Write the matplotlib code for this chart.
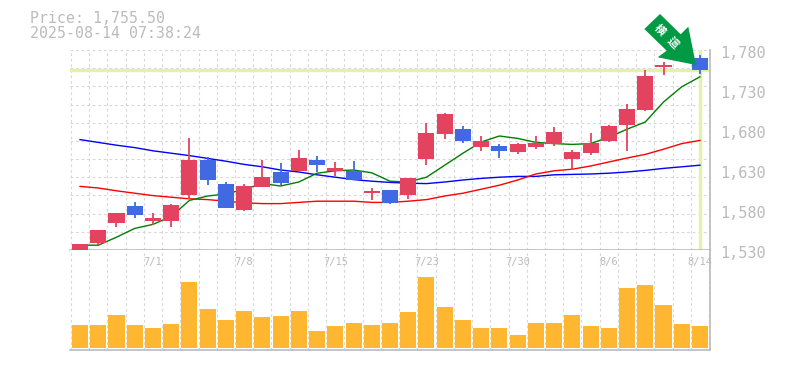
import matplotlib
matplotlib.use('Agg')
import matplotlib.pyplot as plt
from matplotlib.patches import Polygon

W, H = 785, 370

# 4本値 (始値, 高値, 安値, 終値)
opens = [1530, 1539, 1564, 1585, 1566, 1566, 1599, 1642.5, 1612.5, 1580, 1609, 1627.5, 1629, 1642.5, 1629,
         1629, 1601, 1605, 1599, 1644, 1675, 1681, 1659, 1660, 1652.5, 1659, 1662.5, 1644, 1651, 1666,
         1686, 1705, 1759, 1771, 1770]
highs = [1537.5, 1555, 1576, 1590, 1576, 1587, 1670, 1646, 1615, 1612, 1642.5, 1639, 1655, 1647.5, 1640,
         1641, 1607.5, 1605, 1620, 1689, 1701, 1685, 1672.5, 1662.5, 1664, 1672.5, 1684, 1655, 1676, 1686,
         1712.5, 1755, 1765, 1780, 1774]
lows = [1529, 1536, 1559, 1570, 1561, 1559, 1594, 1611, 1582.5, 1579, 1609, 1611, 1629, 1627.5, 1622.5,
        1617.5, 1592.5, 1587.5, 1594, 1636, 1669, 1664, 1654, 1645, 1650, 1656, 1660, 1630, 1649, 1665,
        1654, 1704, 1749, 1769, 1750]
closes = [1537.5, 1555, 1576, 1574, 1570, 1586, 1642.5, 1617.5, 1582.5, 1610, 1621, 1614, 1645, 1636, 1632.5,
          1617.5, 1604, 1589, 1620, 1676, 1700, 1666, 1666, 1654, 1662.5, 1664, 1677.5, 1652.5, 1664, 1685,
          1706, 1747.5, 1761, 1777, 1755.5]

# 移動平均線
ma_short = [1536, 1536, 1546, 1557, 1562, 1572, 1592, 1597.5, 1600, 1606, 1613, 1610, 1615, 1626, 1629,
            1630, 1626.5, 1616, 1615, 1621, 1636, 1651, 1665, 1672.5, 1669.5, 1664.5, 1663, 1662, 1663, 1671,
            1681, 1690, 1715, 1734, 1746.5]
ma_mid = [1609.5, 1607.5, 1604, 1601, 1598, 1596, 1594, 1593, 1591, 1589, 1588, 1588, 1589.5, 1591, 1591,
          1591, 1589.5, 1589.5, 1591, 1593, 1597.5, 1601, 1606, 1611, 1617.5, 1625, 1629, 1631, 1635, 1640,
          1645, 1649.5, 1656, 1663, 1667]
ma_long = [1668, 1664.5, 1661, 1658, 1654, 1651, 1648, 1644.5, 1641, 1637, 1634, 1630, 1627.5, 1624, 1621,
           1618, 1616, 1614.5, 1613.5, 1613, 1615, 1617.5, 1619.5, 1621, 1622, 1622, 1624, 1624.5, 1625, 1626,
           1627.5, 1629.5, 1632, 1634, 1636]

# 出来高 (ピクセル高さ相当の相対値)
volumes = [22.7, 22.7, 32.7, 22.7, 19.7, 23.7, 65.7, 38.7, 27.7, 36.7, 30.7, 31.7, 36.7, 16.7, 21.7,
           24.7, 22.7, 24.7, 35.7, 70.7, 40.7, 27.7, 19.7, 19.7, 12.7, 24.7, 24.7, 32.7, 21.7, 19.7,
           59.7, 62.7, 42.7, 23.7, 21.7]

price_ticks = [1530, 1580, 1630, 1680, 1730, 1780]
date_ticks = [4, 9, 14, 19, 24, 29, 34]
date_labels = ['7/1', '7/8', '7/15', '7/23', '7/30', '8/6', '8/14']
last_price = 1755.5

RED = '#E4435F'
BLUE = '#4169E1'
ORANGE = '#FFB732'
GREEN = '#009944'
HILIGHT = '#E4F2A8'
TEXT = '#BBBBBB'
GRID = '#D8D8D8'
FRAME = '#BBBBBB'
MONO = 'DejaVu Sans Mono'


def px_axes(fig, x0, y0, x1, y1):
    return fig.add_axes([x0 / W, 1 - y1 / H, (x1 - x0) / W, (y1 - y0) / H])


fig = plt.figure(figsize=(W / 100, H / 100), dpi=100)
ax = px_axes(fig, 70, 50, 710, 250)
ax_v = px_axes(fig, 70, 250, 710, 350)

n = len(opens)
xs = list(range(n))
xlim = (-0.55, n - 1 + 0.55)

# ---- ローソク足 ----
ax.set_xlim(xlim)
ax.set_ylim(1530, 1780)
for i in xs:
    c = RED if closes[i] >= opens[i] else BLUE
    ax.plot([i, i], [lows[i], highs[i]], color=c, lw=1.3, zorder=4, solid_capstyle='butt', clip_on=False)
    ax.bar(i, abs(closes[i] - opens[i]), bottom=min(opens[i], closes[i]), width=0.88, color=c, zorder=5)

ax.plot(xs, ma_long, color='#0000FF', lw=1.0, zorder=3)
ax.plot(xs, ma_mid, color='#FF0000', lw=1.0, zorder=3)
ax.plot(xs, ma_short, color='#007F00', lw=1.0, zorder=3)

# 現在値のライン
ax.axhline(last_price, color=HILIGHT, lw=2.4, zorder=2)
ax.axvline(n - 1, color=HILIGHT, lw=2.4, zorder=2)

ax.set_yticks([1530 + k * 250 / 11 for k in range(12)])
ax.set_xticks([i + 0.5 for i in range(-1, n)])
ax.set_xticklabels([])
ax.set_yticklabels([])
ax.tick_params(length=0)
ax.grid(True, color=GRID, lw=0.8, ls=(0, (2.5, 2.5)))
ax.set_axisbelow(True)

# 右側の価格ラベル
for p in price_ticks:
    ax.annotate(f'{p:,}', (1, p), xycoords=('axes fraction', 'data'), xytext=(10, -4), textcoords='offset pixels',
                ha='left', va='center', family=MONO, fontsize=11, color=TEXT, annotation_clip=False)

# ---- 出来高 ----
ax_v.bar(xs, volumes, width=0.88, color=ORANGE, zorder=3)
ax_v.set_xlim(xlim)
ax_v.set_ylim(-2, 98)
ax_v.set_xticks([i + 0.5 for i in range(-1, n)])
ax_v.set_xticklabels([])
ax_v.set_yticks([])
ax_v.tick_params(length=0)
ax_v.grid(True, axis='x', color=GRID, lw=0.8, ls=(0, (2.5, 2.5)))
ax_v.set_axisbelow(True)

for i, lab in zip(date_ticks, date_labels):
    ax_v.text(i, 86, lab, ha='center', va='center', family=MONO, fontsize=7.5, color=TEXT, clip_on=False)

for a in (ax, ax_v):
    a.spines['top'].set_visible(False)
    a.spines['left'].set_visible(False)
    a.spines['right'].set_color(FRAME)
    a.spines['bottom'].set_color(FRAME)
    a.spines['right'].set_linewidth(1.2)
    a.spines['bottom'].set_linewidth(1.2)

# ---- 矢印 (ピクセル座標) ----
over = fig.add_axes([0, 0, 1, 1], zorder=10)
over.set_xlim(0, W)
over.set_ylim(H, 0)
over.axis('off')
arrow_pts = [(660, 14), (644.3, 29), (666.7, 50.7), (657.7, 57.3), (696, 65), (688.3, 26.7), (680.7, 34.3)]
over.add_patch(Polygon(arrow_pts, closed=True, color=GREEN, lw=0))
over.text(660, 30, '横', rotation=-45, ha='center', va='center', color='white', fontsize=8,
          family=['Noto Sans CJK JP', 'DejaVu Sans'], weight='bold')
over.text(672.7, 42.7, '這', rotation=-45, ha='center', va='center', color='white', fontsize=8,
          family=['Noto Sans CJK JP', 'DejaVu Sans'], weight='bold')

# タイトル
fig.text(30 / W, 1 - 18.5 / H, 'Price: 1,755.50', family=MONO, fontsize=10.7, color=TEXT, ha='left', va='center')
fig.text(30 / W, 1 - 33.5 / H, '2025-08-14 07:38:24', family=MONO, fontsize=10.7, color=TEXT, ha='left', va='center')

fig.savefig('out.png', dpi=100)
